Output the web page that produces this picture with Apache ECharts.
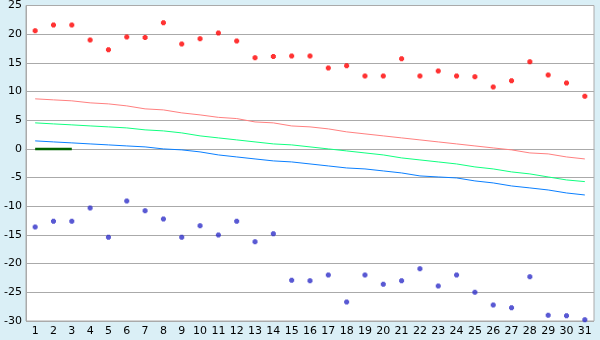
<!DOCTYPE html>
<html>
<head>
<meta charset="utf-8">
<script src="https://cdn.jsdelivr.net/npm/echarts@6/dist/echarts.min.js"></script>
<style>
html,body{margin:0;padding:0;background:#daeff6;}
#c{width:600px;height:340px;}
</style>
</head>
<body>
<div id="c"></div>
<script>
var categories = ['1','2','3','4','5','6','7','8','9','10','11','12','13','14','15','16','17','18','19','20','21','22','23','24','25','26','27','28','29','30','31'];
var highs = [20.6,21.6,21.6,19.0,17.3,19.5,19.4,22.0,18.3,19.2,20.2,18.8,15.9,16.1,16.2,16.2,14.1,14.5,12.7,12.7,15.7,12.7,13.6,12.7,12.6,10.8,11.9,15.2,12.9,11.5,9.2];
var lows = [-13.6,-12.6,-12.6,-10.3,-15.4,-9.1,-10.8,-12.2,-15.4,-13.4,-15.0,-12.6,-16.2,-14.8,-22.9,-23.0,-22.0,-26.7,-22.0,-23.6,-23.0,-20.9,-23.9,-22.0,-25.0,-27.2,-27.7,-22.3,-29.0,-29.1,-29.8];
var normHigh = [8.73,8.55,8.38,8.03,7.85,7.5,6.98,6.8,6.28,5.93,5.5,5.29,4.7,4.54,4.0,3.84,3.49,2.97,2.62,2.27,1.92,1.57,1.22,0.87,0.52,0.17,-0.17,-0.7,-0.87,-1.4,-1.75];
var normMean = [4.54,4.36,4.19,4.01,3.84,3.66,3.32,3.14,2.79,2.27,1.92,1.57,1.22,0.87,0.7,0.35,0,-0.35,-0.7,-1.05,-1.57,-1.92,-2.27,-2.62,-3.14,-3.49,-4.01,-4.36,-4.89,-5.41,-5.7];
var normLow = [1.4,1.22,1.05,0.87,0.7,0.52,0.35,0,-0.17,-0.52,-1.05,-1.4,-1.75,-2.09,-2.27,-2.62,-2.97,-3.32,-3.49,-3.84,-4.19,-4.71,-4.89,-5.06,-5.58,-5.93,-6.46,-6.8,-7.16,-7.68,-8.03];
var current = [0,0,0];
var yMin = -30, yMax = 25, yStep = 5;

var markerPath = 'path://M1,0 L4,0 L4,1 L5,1 L5,4 L4,4 L4,5 L1,5 L1,4 L0,4 L0,1 L1,1 Z';

var chart = echarts.init(document.getElementById('c'), null, {renderer:'canvas'});
chart.setOption({
  animation: false,
  backgroundColor: '#daeff6',
  grid: {left: 26, right: 6, top: 5, bottom: 19, show: true, backgroundColor: '#ffffff', borderColor: '#aaaaaa', borderWidth: 1},
  xAxis: {
    type: 'category', data: categories, boundaryGap: true,
    axisLine: {lineStyle: {color: '#aaaaaa'}},
    axisTick: {alignWithLabel: true, length: 5, lineStyle: {color: '#333333'}},
    axisLabel: {color: '#000', fontFamily: 'DejaVu Sans', fontSize: 11, margin: 5, interval: 0},
    splitLine: {show: false}
  },
  yAxis: {
    type: 'value', min: yMin, max: yMax, interval: yStep,
    axisLine: {show: true, lineStyle: {color: '#aaaaaa'}},
    axisTick: {show: false},
    axisLabel: {color: '#000', fontFamily: 'DejaVu Sans', fontSize: 11, margin: 4},
    splitLine: {lineStyle: {color: '#aaaaaa', width: 1}}
  },
  series: [
    {type: 'line', data: normHigh, symbol: 'none', lineStyle: {color: '#ff8080', width: 1}},
    {type: 'line', data: normMean, symbol: 'none', lineStyle: {color: '#10ff80', width: 1}},
    {type: 'line', data: normLow, symbol: 'none', lineStyle: {color: '#0a7fff', width: 1}},
    {type: 'line', data: current, symbol: 'none', lineStyle: {color: '#006400', width: 2.5}},
    {type: 'scatter', data: highs, symbol: markerPath, symbolSize: 5, itemStyle: {color: '#ff0000'}},
    {type: 'scatter', data: lows, symbol: markerPath, symbolSize: 5, itemStyle: {color: '#3030c8'}}
  ]
});
</script>
</body>
</html>
